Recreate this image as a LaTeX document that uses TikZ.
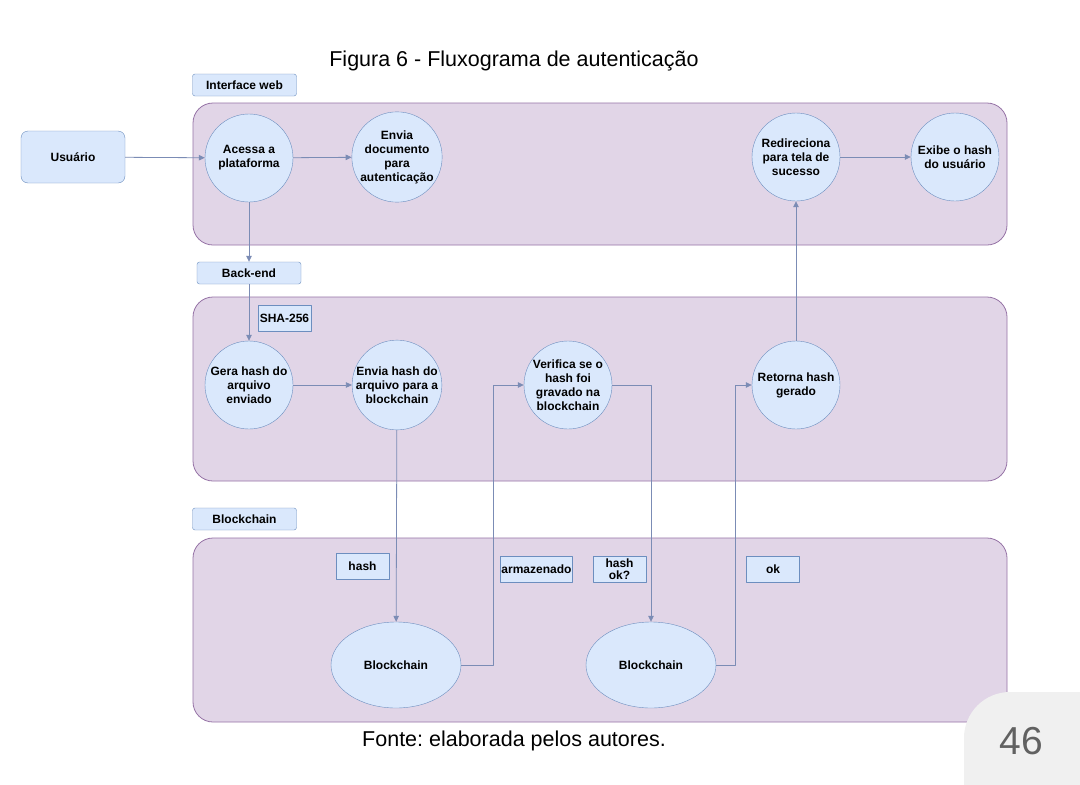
\documentclass[tikz,border=0pt]{standalone}
\usepackage{fontspec}
\setmainfont{Liberation Sans}
\usetikzlibrary{arrows.meta,shapes.geometric}
\definecolor{laneFill}{HTML}{E1D5E7}
\definecolor{laneLine}{HTML}{9673A6}
\definecolor{boxFill}{HTML}{DAE8FC}
\definecolor{boxLine}{HTML}{6C8EBF}
\definecolor{flowLine}{HTML}{7B8CB5}
\newcommand{\lbl}{\bfseries\fontsize{12}{14}\selectfont}
\frenchspacing
\begin{document}
\begin{tikzpicture}[x=1pt,y=-1pt,line join=round,
  lane/.style={draw=laneLine,fill=laneFill,rounded corners=20pt,line width=0.8pt},
  tag/.style={draw=boxLine,fill=boxFill,rounded corners=2.5pt,minimum width=104pt,minimum height=22pt,inner sep=0pt,font=\lbl},
  proc/.style={circle,draw=boxLine,fill=boxFill,minimum size=88pt,inner sep=0pt,align=center,font=\lbl},
  store/.style={ellipse,draw=boxLine,fill=boxFill,minimum width=130pt,minimum height=86pt,inner sep=0pt,font=\lbl},
  note/.style={draw=boxLine,fill=boxFill,minimum width=53pt,minimum height=26pt,inner xsep=1pt,inner ysep=0pt,align=center,font=\lbl},
  flow/.style={draw=flowLine,line width=0.8pt,-{Triangle[length=6pt,width=5.5pt]}}]
\fill[white] (0,0) rectangle (1080,785);
\useasboundingbox (0,0) rectangle (1080,785);
\node[font=\fontsize{21.5}{24}\selectfont] (title) at (514,61) {Figura 6 - Fluxograma de autenticação};
% faixas
\draw[lane] (193,103) rectangle (1007,245);\draw[lane] (193,297) rectangle (1007,481);\draw[lane] (193,538) rectangle (1007,722);
\node[tag] (tweb) at (244.5,85) {Interface web};\node[tag] (tback) at (249,273) {Back-end};\node[tag] (tchain) at (244.5,519) {Blockchain};
% interface web
\node[tag,minimum width=104pt,minimum height=52pt,rounded corners=7pt] (user) at (73,157) {Usuário};
\node[proc] (acessa) at (249,158) {Acessa a\\plataforma};
\node[proc] (envdoc) at (397,157) {Envia\\documento\\para\\autenticação};
\node[proc] (redir) at (796,157) {Redireciona\\para tela de\\sucesso};
\node[proc] (exibe) at (955,157) {Exibe o hash\\do usuário};
% back-end
\node[note] (sha) at (284.5,318) {SHA-256};
\node[proc] (gera) at (249,385) {Gera hash do\\arquivo\\enviado};
\node[proc] (envhash) at (397,385) {Envia hash do\\arquivo para a\\blockchain};
\node[proc] (verif) at (568,385) {Verifica se o\\hash foi\\gravado na\\blockchain};
\node[proc] (ret) at (796,385) {Retorna hash\\gerado};
% blockchain
\node[note] (nhash) at (362.5,566) {hash};\node[note] (narm) at (536.5,569) {armazenado};
\node[note] (nok1) at (619.5,569) {hash\\[-2pt]ok?};\node[note] (nok2) at (773,569) {ok};
\node[store] (bc1) at (396,665) {Blockchain};\node[store] (bc2) at (651,665) {Blockchain};
% fluxo
\draw[flow] (user) -- (acessa);\draw[flow] (acessa) -- (envdoc);\draw[flow] (acessa) -- (tback);\draw[flow] (tback) -- (gera);
\draw[flow] (gera) -- (envhash);\draw[flow] (envhash) -- (bc1);
\draw[flow] (bc1.east) -- ++(32,0) |- (verif.west);\draw[flow] (verif.east) -| (bc2.north);
\draw[flow] (bc2.east) -- ++(19,0) |- (ret.west);\draw[flow] (ret) -- (redir);\draw[flow] (redir) -- (exibe);
\node[font=\fontsize{21.5}{24}\selectfont] (fonte) at (514,741) {Fonte: elaborada pelos autores.};
% numero da pagina
\fill[black!6,rounded corners=46pt] (964,692) rectangle (1140,840);
\node[text=black!62,font=\fontsize{39}{44}\selectfont] (pag) at (1021,741) {46};
\end{tikzpicture}
\end{document}
